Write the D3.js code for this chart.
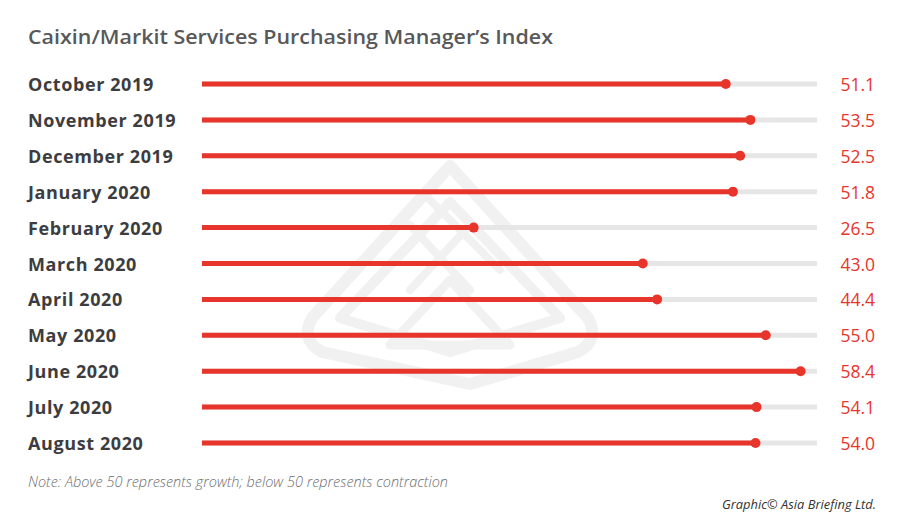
<!DOCTYPE html>
<html>
<head>
<meta charset="utf-8">
<script src="https://cdn.jsdelivr.net/npm/d3@7"></script>
<style>
  body { margin: 0; background: #fff; }
  svg { display: block; }
</style>
</head>
<body>
<div id="chart"></div>
<script>
// Datos del gráfico
const months = ['October 2019', 'November 2019', 'December 2019', 'January 2020', 'February 2020',
  'March 2020', 'April 2020', 'May 2020', 'June 2020', 'July 2020', 'August 2020'];
const pmiValues = [51.1, 53.5, 52.5, 51.8, 26.5, 43.0, 44.4, 55.0, 58.4, 54.1, 54.0];
const axisMax = 60;

const width = 900, height = 531;
const red = '#e8352b';

const svg = d3.select('#chart')
  .append('svg')
  .attr('width', width)
  .attr('height', height);

svg.append('rect').attr('width', width).attr('height', height).attr('fill', '#fff');

// Marca de agua (logo tenue)
const wm = svg.append('g')
  .attr('fill', 'none')
  .attr('stroke', '#f1f1f1')
  .attr('stroke-linejoin', 'round')
  .attr('stroke-linecap', 'round');
wm.append('path').attr('d', 'M450,166 L588,318 Q600,340 578,352 L470,384 L322,352 Q300,340 312,318 Z').attr('stroke-width', 12);
wm.append('path').attr('d', 'M450,202 L560,318 L450,352 L340,318 Z').attr('stroke-width', 10);
wm.append('path').attr('d', 'M450,280 L510,345 L390,345 Z').attr('stroke-width', 9);
wm.append('path').attr('d', 'M430,200 L500,270 M410,225 L470,290 M470,225 L410,290').attr('stroke-width', 8);

// Título
svg.append('text')
  .attr('x', 28)
  .attr('y', 44)
  .attr('font-family', 'Open Sans, sans-serif')
  .attr('font-size', 20)
  .attr('font-weight', 600)
  .attr('fill', '#58585a')
  .attr('textLength', 525)
  .attr('lengthAdjust', 'spacingAndGlyphs')
  .text('Caixin/Markit Services Purchasing Manager\u2019s Index');

// Escalas
const x = d3.scaleLinear().domain([0, axisMax]).range([202, 817]);
const y = d3.scalePoint().domain(months).range([84, 443]);

const rows = svg.append('g')
  .selectAll('g')
  .data(months.map((m, i) => ({ month: m, value: pmiValues[i] })))
  .join('g')
  .attr('transform', d => `translate(0,${y(d.month)})`);

// Pista gris
rows.append('line')
  .attr('x1', x(0)).attr('x2', x(axisMax))
  .attr('stroke', '#e6e6e6')
  .attr('stroke-width', 5);

// Barra roja
rows.append('line')
  .attr('x1', x(0)).attr('x2', d => x(d.value))
  .attr('stroke', red)
  .attr('stroke-width', 5);

// Punto final
rows.append('circle')
  .attr('cx', d => x(d.value))
  .attr('r', 5)
  .attr('fill', red);

// Etiquetas de meses
rows.append('text')
  .attr('x', 28)
  .attr('y', 7)
  .attr('font-family', 'Open Sans, sans-serif')
  .attr('font-size', 18)
  .attr('font-weight', 700)
  .attr('letter-spacing', 0.6)
  .attr('fill', '#3d3d3f')
  .text(d => d.month);

// Valores
rows.append('text')
  .attr('x', 875)
  .attr('y', 7)
  .attr('text-anchor', 'end')
  .attr('font-family', 'Open Sans, sans-serif')
  .attr('font-size', 17.5)
  .attr('fill', red)
  .text(d => d.value.toFixed(1));

// Nota
svg.append('text')
  .attr('x', 28)
  .attr('y', 487)
  .attr('font-family', 'Open Sans, sans-serif')
  .attr('font-size', 14)
  .attr('font-style', 'italic')
  .attr('font-weight', 300)
  .attr('fill', '#6d6d6f')
  .attr('textLength', 420)
  .attr('lengthAdjust', 'spacingAndGlyphs')
  .text('Note: Above 50 represents growth; below 50 represents contraction');

// Crédito
svg.append('text')
  .attr('x', 876)
  .attr('y', 509)
  .attr('text-anchor', 'end')
  .attr('font-family', 'Open Sans, sans-serif')
  .attr('font-size', 13)
  .attr('font-style', 'italic')
  .attr('fill', '#333')
  .attr('textLength', 154)
  .attr('lengthAdjust', 'spacingAndGlyphs')
  .text('Graphic\u00a9 Asia Briefing Ltd.');
</script>
</body>
</html>
